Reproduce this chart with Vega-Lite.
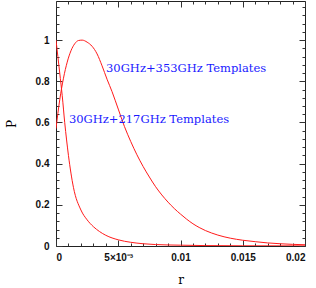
{
  "$schema": "https://vega.github.io/schema/vega-lite/v6.json",
  "autosize": "none",
  "padding": {"left": 56, "top": 1, "right": 11, "bottom": 42},
  "width": 249,
  "height": 245,
  "config": {
    "view": {"stroke": "#222", "strokeWidth": 1},
    "axis": {"grid": false, "domain": false, "tickColor": "#333", "labelFont": "Liberation Sans", "labelFontSize": 10, "labelFontWeight": "bold", "labelColor": "#111", "titleFont": "DejaVu Serif", "titleFontWeight": "normal", "titleFontSize": 12, "titleColor": "#000"}
  },
  "datasets": {
    "curves": [
      {"series": "217", "r": 0, "P": 1.0},
      {"series": "217", "r": 0.0003, "P": 0.84},
      {"series": "217", "r": 0.0005, "P": 0.73},
      {"series": "217", "r": 0.0007, "P": 0.6},
      {"series": "217", "r": 0.001, "P": 0.44},
      {"series": "217", "r": 0.0014, "P": 0.285},
      {"series": "217", "r": 0.002, "P": 0.175},
      {"series": "217", "r": 0.0025, "P": 0.127},
      {"series": "217", "r": 0.003, "P": 0.094},
      {"series": "217", "r": 0.0035, "P": 0.07},
      {"series": "217", "r": 0.004, "P": 0.052},
      {"series": "217", "r": 0.005, "P": 0.03},
      {"series": "217", "r": 0.006, "P": 0.018},
      {"series": "217", "r": 0.007, "P": 0.011},
      {"series": "217", "r": 0.008, "P": 0.007},
      {"series": "217", "r": 0.01, "P": 0.004},
      {"series": "217", "r": 0.012, "P": 0.002},
      {"series": "217", "r": 0.015, "P": 0.001},
      {"series": "217", "r": 0.02, "P": 0.0005},
      {"series": "353", "r": 0, "P": 0.57},
      {"series": "353", "r": 0.0003, "P": 0.71},
      {"series": "353", "r": 0.0006, "P": 0.815},
      {"series": "353", "r": 0.0009, "P": 0.893},
      {"series": "353", "r": 0.0012, "P": 0.948},
      {"series": "353", "r": 0.0015, "P": 0.982},
      {"series": "353", "r": 0.0018, "P": 0.998},
      {"series": "353", "r": 0.0021, "P": 1.0},
      {"series": "353", "r": 0.0025, "P": 0.99},
      {"series": "353", "r": 0.0029, "P": 0.97},
      {"series": "353", "r": 0.0033, "P": 0.933},
      {"series": "353", "r": 0.0037, "P": 0.875},
      {"series": "353", "r": 0.0041, "P": 0.81},
      {"series": "353", "r": 0.0045, "P": 0.75},
      {"series": "353", "r": 0.005, "P": 0.665},
      {"series": "353", "r": 0.0055, "P": 0.58},
      {"series": "353", "r": 0.006, "P": 0.508},
      {"series": "353", "r": 0.0065, "P": 0.443},
      {"series": "353", "r": 0.007, "P": 0.386},
      {"series": "353", "r": 0.0075, "P": 0.335},
      {"series": "353", "r": 0.008, "P": 0.288},
      {"series": "353", "r": 0.0085, "P": 0.248},
      {"series": "353", "r": 0.009, "P": 0.213},
      {"series": "353", "r": 0.0095, "P": 0.182},
      {"series": "353", "r": 0.01, "P": 0.155},
      {"series": "353", "r": 0.0105, "P": 0.13},
      {"series": "353", "r": 0.011, "P": 0.108},
      {"series": "353", "r": 0.0115, "P": 0.09},
      {"series": "353", "r": 0.012, "P": 0.075},
      {"series": "353", "r": 0.0125, "P": 0.063},
      {"series": "353", "r": 0.013, "P": 0.053},
      {"series": "353", "r": 0.014, "P": 0.038},
      {"series": "353", "r": 0.015, "P": 0.028},
      {"series": "353", "r": 0.016, "P": 0.021},
      {"series": "353", "r": 0.017, "P": 0.015},
      {"series": "353", "r": 0.018, "P": 0.011},
      {"series": "353", "r": 0.019, "P": 0.008},
      {"series": "353", "r": 0.02, "P": 0.006}
    ],
    "labels": [
      {"r": 0.00402, "P": 0.859, "text": "30GHz+353GHz Templates"},
      {"r": 0.00104, "P": 0.612, "text": "30GHz+217GHz Templates"}
    ]
  },
  "layer": [
    {
      "data": {"name": "curves"},
      "mark": {"type": "line", "strokeWidth": 1, "interpolate": "monotone", "clip": true},
      "encoding": {
        "x": {"field": "r", "type": "quantitative", "scale": {"domain": [0, 0.02], "nice": false},
          "axis": {"orient": "bottom", "title": "r", "values": [0, 0.005, 0.01, 0.015, 0.02], "tickSize": -6, "labelPadding": 12, "titlePadding": 12,
            "labelExpr": "datum.value == 0.005 ? '5×10⁻³' : format(datum.value, '~g')"}},
        "y": {"field": "P", "type": "quantitative", "scale": {"domain": [0, 1.19], "nice": false, "zero": true},
          "axis": {"orient": "left", "title": "P", "values": [0, 0.2, 0.4, 0.6, 0.8, 1], "tickSize": -6, "labelPadding": 13, "titlePadding": 17,
            "labelExpr": "format(datum.value, '~g')"}},
        "color": {"field": "series", "type": "nominal", "scale": {"range": ["#ff1a1a", "#ff1a1a"]}, "legend": null},
        "detail": {"field": "series"}
      }
    },
    {
      "data": {"name": "curves"},
      "mark": {"type": "point", "opacity": 0},
      "encoding": {
        "x": {"field": "r", "type": "quantitative", "axis": {"orient": "bottom", "title": null, "labels": false, "tickSize": -3,
          "values": [0.001,0.002,0.003,0.004,0.006,0.007,0.008,0.009,0.011,0.012,0.013,0.014,0.016,0.017,0.018,0.019]}},
        "y": {"field": "P", "type": "quantitative", "axis": {"orient": "left", "title": null, "labels": false, "tickSize": -3,
          "values": [0.04,0.08,0.12,0.16,0.24,0.28,0.32,0.36,0.44,0.48,0.52,0.56,0.64,0.68,0.72,0.76,0.84,0.88,0.92,0.96,1.04,1.08,1.12,1.16]}}
      }
    },
    {
      "data": {"name": "curves"},
      "mark": {"type": "point", "opacity": 0},
      "encoding": {
        "x": {"field": "r", "type": "quantitative", "axis": {"orient": "top", "title": null, "labels": false, "tickSize": -6,
          "values": [0, 0.005, 0.01, 0.015, 0.02]}},
        "y": {"field": "P", "type": "quantitative", "axis": {"orient": "right", "title": null, "labels": false, "tickSize": -6,
          "values": [0, 0.2, 0.4, 0.6, 0.8, 1]}}
      }
    },
    {
      "data": {"name": "curves"},
      "mark": {"type": "point", "opacity": 0},
      "encoding": {
        "x": {"field": "r", "type": "quantitative", "axis": {"orient": "top", "title": null, "labels": false, "tickSize": -3,
          "values": [0.001,0.002,0.003,0.004,0.006,0.007,0.008,0.009,0.011,0.012,0.013,0.014,0.016,0.017,0.018,0.019]}},
        "y": {"field": "P", "type": "quantitative", "axis": {"orient": "right", "title": null, "labels": false, "tickSize": -3,
          "values": [0.04,0.08,0.12,0.16,0.24,0.28,0.32,0.36,0.44,0.48,0.52,0.56,0.64,0.68,0.72,0.76,0.84,0.88,0.92,0.96,1.04,1.08,1.12,1.16]}}
      }
    },
    {
      "data": {"name": "labels"},
      "mark": {"type": "text", "align": "left", "baseline": "middle", "font": "DejaVu Serif", "fontSize": 11.5, "color": "#1a1aff"},
      "encoding": {
        "x": {"field": "r", "type": "quantitative", "axis": null},
        "y": {"field": "P", "type": "quantitative", "axis": null},
        "text": {"field": "text"}
      }
    }
  ],
  "resolve": {"axis": {"x": "independent", "y": "independent"}}
}
